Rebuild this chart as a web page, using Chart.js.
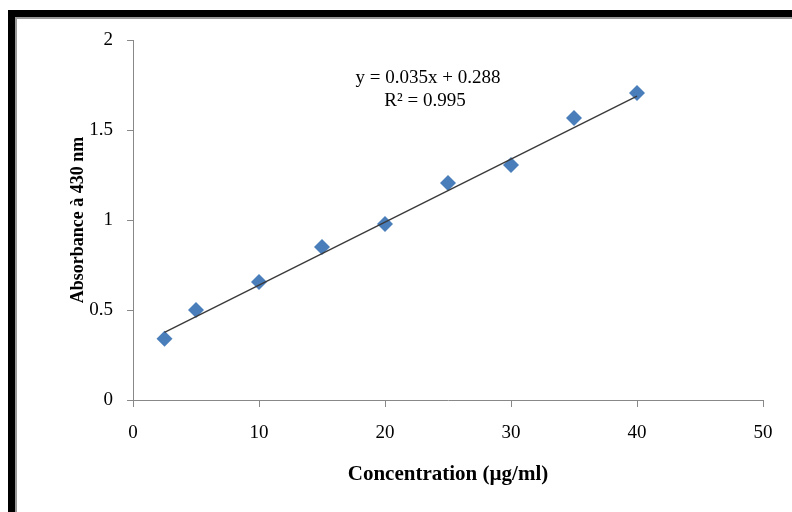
<!DOCTYPE html>
<html>
<head>
<meta charset="utf-8">
<title>Absorbance calibration</title>
<script src="https://cdn.jsdelivr.net/npm/chart.js@4/dist/chart.umd.min.js"></script>
<style>
  html, body { margin: 0; padding: 0; background: #fff; }
  #wrap { position: relative; width: 792px; height: 512px; overflow: hidden; }
  #frame {
    position: absolute; left: 8px; top: 10px; right: 0; bottom: 0;
    border-top: 7px solid #000; border-left: 7px solid #000;
    box-shadow: inset 2px 2px 0 #999;
    pointer-events: none;
  }
  canvas { position: absolute; left: 0; top: 0; }
</style>
</head>
<body>
<div id="wrap">
  <canvas id="calibChart" width="792" height="512"></canvas>
  <div id="frame"></div>
</div>
<script>
// standard points (µg/ml -> absorbance)
const concentrations = [2.5, 5, 10, 15, 20, 25, 30, 35, 40];
const absorbances = [0.34, 0.50, 0.655, 0.85, 0.978, 1.206, 1.306, 1.567, 1.706];

// linear fit shown on the chart
const slope = 0.035;
const intercept = 0.288;
const rSquared = 0.995;

const xTicks = [0, 10, 20, 30, 40, 50];
const yTicks = [0, 0.5, 1, 1.5, 2];

const serif = "'Liberation Serif', 'Times New Roman', serif";

const points = concentrations.map((c, i) => ({ x: c, y: absorbances[i] }));
const xFirst = concentrations[0];
const xLast = concentrations[concentrations.length - 1];
const fitLine = [
  { x: xFirst, y: slope * xFirst + intercept },
  { x: xLast, y: slope * xLast + intercept },
];

// equation + R² text above the fit line
const equationLabel = {
  id: "equationLabel",
  afterDraw(chart) {
    const { ctx, chartArea } = chart;
    ctx.save();
    ctx.fillStyle = "#000";
    ctx.font = "19px " + serif;
    ctx.textAlign = "center";
    ctx.textBaseline = "alphabetic";
    ctx.fillText("y = " + slope.toFixed(3) + "x + " + intercept.toFixed(3),
      chartArea.left + 295, chartArea.top + 43);
    ctx.fillText("R² = " + rSquared.toFixed(3),
      chartArea.left + 292, chartArea.top + 66);
    ctx.restore();
  },
};

const axisGrey = "#888";
const plainNumber = (value) => String(value);

new Chart(document.getElementById("calibChart"), {
  type: "scatter",
  data: {
    datasets: [
      {
        label: "Absorbance",
        data: points,
        pointStyle: "rectRot",
        pointRadius: 8,
        pointHoverRadius: 8,
        backgroundColor: "#4a7ebb",
        borderColor: "#4a7ebb",
        borderWidth: 0,
        order: 2,
      },
      {
        type: "line",
        label: "Linear fit",
        data: fitLine,
        borderColor: "#3a3a3a",
        borderWidth: 1.3,
        pointRadius: 0,
        fill: false,
        order: 1,
      },
    ],
  },
  options: {
    responsive: false,
    animation: false,
    events: [],
    layout: { padding: { left: 0, right: 29, top: 40, bottom: 0 } },
    plugins: {
      legend: { display: false },
      tooltip: { enabled: false },
    },
    scales: {
      x: {
        type: "linear",
        min: 0,
        max: 50,
        afterBuildTicks: (scale) => { scale.ticks = xTicks.map((v) => ({ value: v })); },
        afterFit: (scale) => { scale.height = 112; },
        grid: { drawOnChartArea: false, drawTicks: true, tickLength: 7, color: axisGrey },
        border: { display: true, color: axisGrey, width: 1 },
        ticks: { color: "#000", padding: 15, callback: plainNumber, font: { family: serif, size: 19 } },
        title: {
          display: true,
          text: "Concentration (µg/ml)",
          color: "#000",
          font: { family: serif, size: 21, weight: "bold" },
          padding: { top: 0, bottom: 25 },
        },
      },
      y: {
        type: "linear",
        min: 0,
        max: 2,
        afterBuildTicks: (scale) => { scale.ticks = yTicks.map((v) => ({ value: v })); },
        afterFit: (scale) => { scale.width = 133; },
        grid: { drawOnChartArea: false, drawTicks: true, tickLength: 6, color: axisGrey },
        border: { display: true, color: axisGrey, width: 1 },
        ticks: { color: "#000", padding: 14, callback: plainNumber, font: { family: serif, size: 19 } },
        title: {
          display: true,
          text: "Absorbance à 430 nm",
          color: "#000",
          font: { family: serif, size: 18, weight: "bold" },
          padding: { top: 68, bottom: 0 },
        },
      },
    },
  },
  plugins: [equationLabel],
});
</script>
</body>
</html>
